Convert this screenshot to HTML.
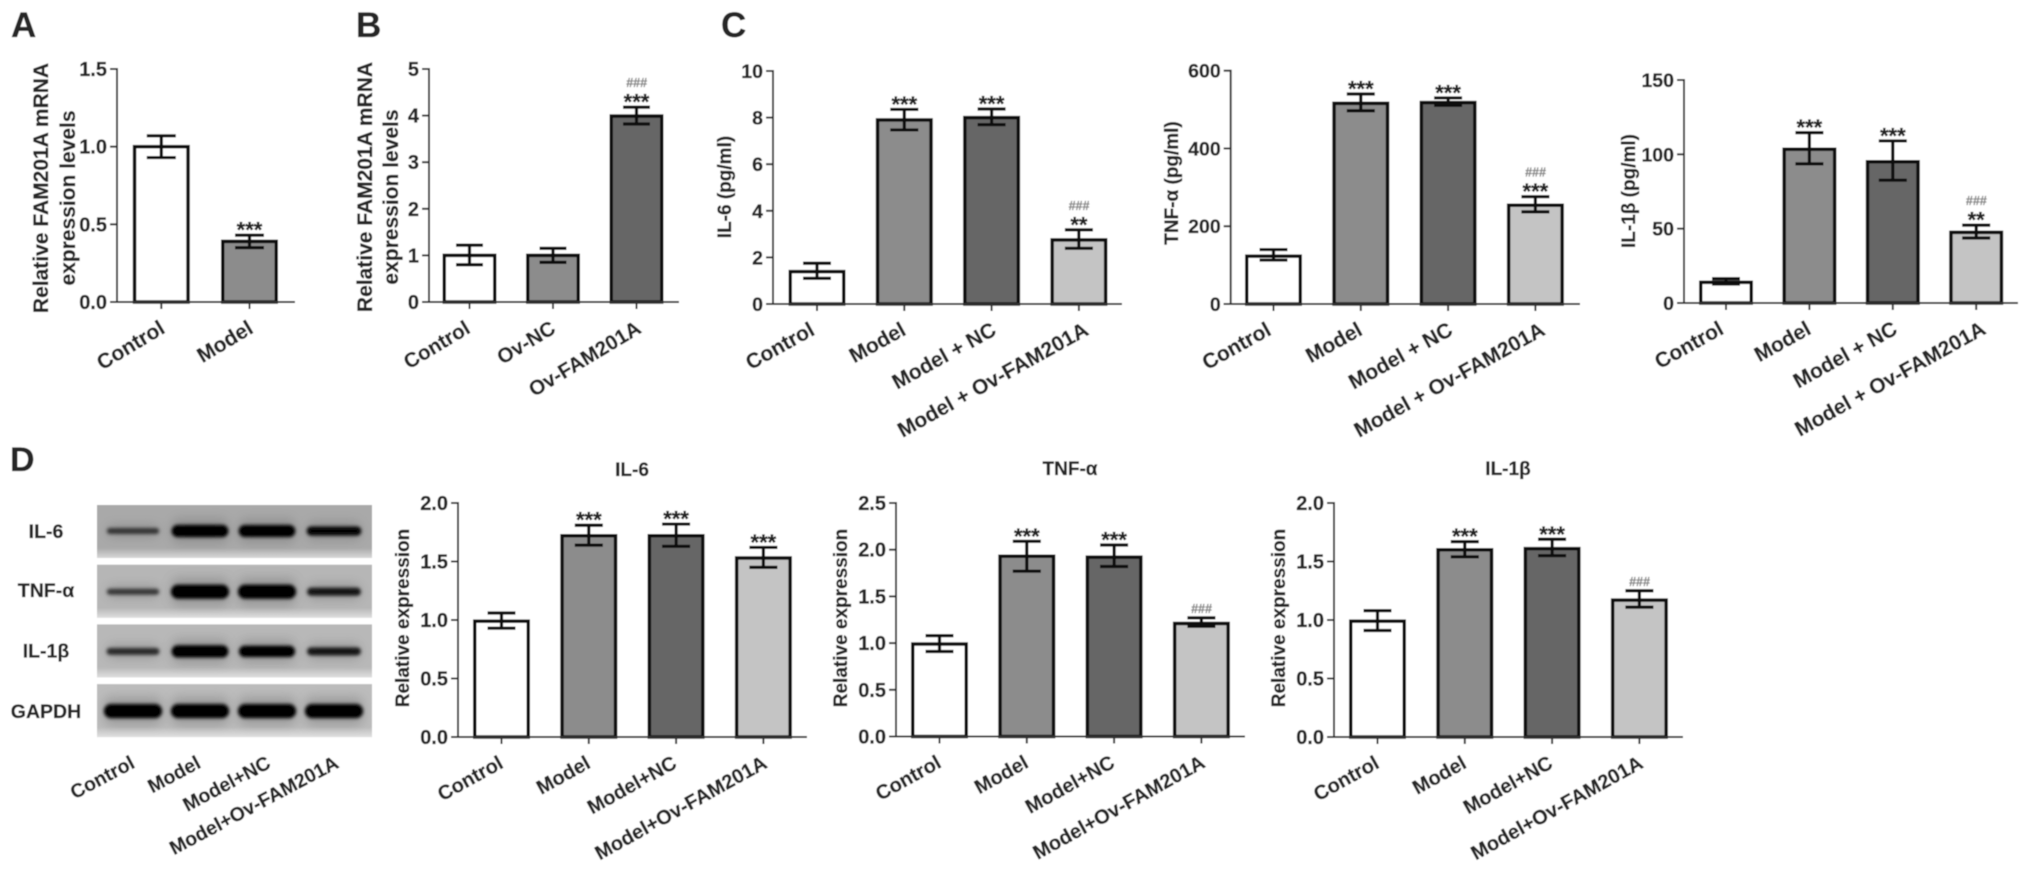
<!DOCTYPE html>
<html lang="en">
<head>
<meta charset="utf-8">
<title>FAM201A expression figure</title>
<style>
  html, body { margin: 0; padding: 0; background: #fff; width: 2031px; height: 870px; overflow: hidden; }
  svg { display: block; }
  text { font-family: "Liberation Sans", "DejaVu Sans", sans-serif; font-weight: bold; fill: #262626; stroke: #262626; stroke-width: 0.3; }
</style>
</head>
<body>
<svg id="figure" xmlns="http://www.w3.org/2000/svg" width="2031" height="870" viewBox="0 0 2031 870">
  <defs>
    <filter id="soft" x="0" y="0" width="100%" height="100%" filterUnits="objectBoundingBox"><feGaussianBlur stdDeviation="0.65"/></filter>
    <filter id="bandBlur" x="-30%" y="-100%" width="160%" height="300%"><feGaussianBlur stdDeviation="1.5"/></filter>
    <filter id="haloBlur" x="-30%" y="-200%" width="160%" height="500%"><feGaussianBlur stdDeviation="5"/></filter>
    <linearGradient id="rowFade" x1="0" y1="0" x2="0" y2="1">
      <stop offset="0" stop-color="#ffffff" stop-opacity="0"/>
      <stop offset="1" stop-color="#ffffff" stop-opacity="0.55"/>
    </linearGradient>
  </defs>
  <rect x="0" y="0" width="2031" height="870" fill="#ffffff"/>
  <g id="root" filter="url(#soft)">
    <rect x="0" y="0" width="2031" height="870" fill="#ffffff"/>
    <text x="11" y="37" font-size="35">A</text>
    <text x="356" y="37" font-size="35">B</text>
    <text x="721" y="37" font-size="35">C</text>
    <text x="10" y="471" font-size="34">D</text>
    <g id="blot"></g>
    <g id="charts"></g>
  </g>
</svg>
<script>
// ---------- Panel A ----------
const aCategories = ['Control', 'Model'];
const aMeans = [1.0, 0.39];
const aUpper = [1.07, 0.43];
const aLower = [0.93, 0.35];
const aStars = ['', '***'];
const aHashes = ['', ''];
const aTicks = ['0.0', '0.5', '1.0', '1.5'];

// ---------- Panel B ----------
const bCategories = ['Control', 'Ov-NC', 'Ov-FAM201A'];
const bMeans = [1.0, 1.0, 3.99];
const bUpper = [1.22, 1.15, 4.18];
const bLower = [0.8, 0.85, 3.82];
const bStars = ['', '', '***'];
const bHashes = ['', '', '###'];
const bTicks = ['0', '1', '2', '3', '4', '5'];

// ---------- Panel C ----------
const cCategories = ['Control', 'Model', 'Model + NC', 'Model + Ov-FAM201A'];
const cStarsIl6 = ['', '***', '***', '**'];
const cStarsTnf = ['', '***', '***', '***'];
const cStarsIl1 = ['', '***', '***', '**'];
const cHashes = ['', '', '', '###'];

const cIl6Means = [1.39, 7.9, 8.0, 2.75];
const cIl6Upper = [1.75, 8.35, 8.37, 3.18];
const cIl6Lower = [1.1, 7.47, 7.7, 2.39];
const cIl6Ticks = ['0', '2', '4', '6', '8', '10'];

const cTnfMeans = [123, 516, 518, 254];
const cTnfUpper = [140, 540, 530, 276];
const cTnfLower = [113, 497, 511, 237];
const cTnfTicks = ['0', '200', '400', '600'];

const cIl1Means = [13.9, 103.4, 95, 47.5];
const cIl1Upper = [16.3, 114.6, 109, 52.4];
const cIl1Lower = [12.8, 93.6, 82.6, 43.7];
const cIl1Ticks = ['0', '50', '100', '150'];

// ---------- Panel D ----------
const dCategories = ['Control', 'Model', 'Model+NC', 'Model+Ov-FAM201A'];

const dIl6Means = [0.99, 1.72, 1.72, 1.53];
const dIl6Upper = [1.06, 1.81, 1.82, 1.62];
const dIl6Lower = [0.93, 1.64, 1.63, 1.45];
const dIl6Stars = ['', '***', '***', '***'];
const dIl6Hashes = ['', '', '', ''];
const dIl6Ticks = ['0.0', '0.5', '1.0', '1.5', '2.0'];

const dTnfMeans = [0.99, 1.93, 1.92, 1.21];
const dTnfUpper = [1.08, 2.09, 2.05, 1.27];
const dTnfLower = [0.91, 1.77, 1.82, 1.18];
const dTnfStars = ['', '***', '***', ''];
const dTnfHashes = ['', '', '', '###'];
const dTnfTicks = ['0.0', '0.5', '1.0', '1.5', '2.0', '2.5'];

const dIl1Means = [0.99, 1.6, 1.61, 1.17];
const dIl1Upper = [1.08, 1.67, 1.69, 1.25];
const dIl1Lower = [0.91, 1.54, 1.55, 1.11];
const dIl1Stars = ['', '***', '***', ''];
const dIl1Hashes = ['', '', '', '###'];
const dIl1Ticks = ['0.0', '0.5', '1.0', '1.5', '2.0'];

// ---------- Western blot band intensities (relative) ----------
const blotTargets = ['IL-6', 'TNF-α', 'IL-1β', 'GAPDH'];
const blotIl6 = [0.48, 1.0, 0.98, 0.75];
const blotTnf = [0.48, 1.15, 1.15, 0.65];
const blotIl1 = [0.55, 1.0, 0.92, 0.65];
const blotGapdh = [1.15, 1.15, 1.15, 1.15];
const blotLevels = [blotIl6, blotTnf, blotIl1, blotGapdh];
const blotLanes = ['Control', 'Model', 'Model+NC', 'Model+Ov-FAM201A'];

const NS = 'http://www.w3.org/2000/svg';
const chartsRoot = document.getElementById('charts');
const blotRoot = document.getElementById('blot');

function make(tag, parent, attrs, txt) {
  const el = document.createElementNS(NS, tag);
  for (const k in attrs) el.setAttribute(k, attrs[k]);
  if (txt !== undefined) el.textContent = txt;
  parent.appendChild(el);
  return el;
}
function slug(s) {
  return s.toLowerCase().replace(/[^a-z0-9]+/g, '-').replace(/^-|-$/g, '');
}

const FILLS2 = ['#ffffff', '#8c8c8c'];
const FILLS3 = ['#ffffff', '#8c8c8c', '#666666'];
const FILLS4 = ['#ffffff', '#8c8c8c', '#666666', '#c4c4c4'];
const INK = '#0d0d0d';
const AXIS = '#333333';
const BAR_STROKE = 3.5;

function drawChart(p) {
  const g = make('g', chartsRoot, {});
  
  

  const yScale = v => p.y0 - (v / p.yMax) * (p.y0 - p.yTop);
  const xBand = i => p.first + i * p.step;

  // bars
  p.categories.forEach((c, i) => {
    const yv = yScale(p.means[i]);
    const bar = make('rect', g, {
      x: xBand(i) - p.barW / 2 + BAR_STROKE / 2, y: yv,
      width: p.barW - BAR_STROKE, height: p.y0 - yv,
      fill: p.fills[i], stroke: INK, 'stroke-width': BAR_STROKE
    });
    
    
  });

  // error bars
  p.categories.forEach((c, i) => {
    const eg = make('g', g, { stroke: INK, 'stroke-width': 3.2, fill: 'none' });
    
    
    const cx = xBand(i), hi = yScale(p.upper[i]), lo = yScale(p.lower[i]);
    make('line', eg, { x1: cx, x2: cx, y1: hi, y2: lo });
    make('line', eg, { x1: cx - p.capW / 2, x2: cx + p.capW / 2, y1: hi, y2: hi });
    make('line', eg, { x1: cx - p.capW / 2, x2: cx + p.capW / 2, y1: lo, y2: lo });
  });

  // significance marks
  p.categories.forEach((c, i) => {
    const hi = yScale(p.upper[i]);
    const starCenter = hi - 10;
    if (p.stars[i]) {
      const s = make('text', g, { x: xBand(i), y: starCenter + 12.5, 'font-size': 22, 'text-anchor': 'middle', style: 'fill:#222' }, p.stars[i]);
      
      
    }
    if (p.hashes[i]) {
      const hy = p.stars[i] ? starCenter - 10 : hi - 5;
      const h = make('text', g, { x: xBand(i), y: hy, 'font-size': 12.5, 'text-anchor': 'middle', style: 'fill:#8a8a8a;stroke:#8a8a8a;font-style:italic' }, p.hashes[i]);
      
      
    }
  });

  // axes
  const yAxis = make('line', g, { x1: p.axisX, x2: p.axisX, y1: p.yTop - 1, y2: p.y0 + 1, stroke: AXIS, 'stroke-width': 2 });
  
  
  const xAxis = make('line', g, { x1: p.axisX - 7, x2: p.xEnd, y1: p.y0, y2: p.y0, stroke: AXIS, 'stroke-width': 2 });
  
  

  // y ticks
  p.ticks.forEach(t => {
    const y = yScale(parseFloat(t));
    const tk = make('line', g, { x1: p.axisX - 7, x2: p.axisX, y1: y, y2: y, stroke: AXIS, 'stroke-width': 2 });
    
    
    const lb = make('text', g, { x: p.axisX - 10, y: y + 7, 'font-size': p.tickFont, 'text-anchor': 'end' }, t);
    
    
  });

  // x ticks + labels
  p.categories.forEach((c, i) => {
    const x = xBand(i);
    const tk = make('line', g, { x1: x, x2: x, y1: p.y0, y2: p.y0 + 7, stroke: AXIS, 'stroke-width': 2 });
    
    
    const lx = x + p.catShift[i], ly = p.y0 + 30;
    const lb = make('text', g, {
      x: lx, y: ly, 'font-size': p.catFont, 'text-anchor': 'end',
      transform: 'rotate(' + p.catAngle + ' ' + lx + ' ' + ly + ')'
    }, c);
    
    
  });

  // y axis titles
  p.yTitles.forEach(t => {
    const lb = make('text', g, {
      x: t.x, y: t.y, 'font-size': p.titleFont, 'text-anchor': 'middle',
      transform: 'rotate(-90 ' + t.x + ' ' + t.y + ')'
    }, t.text);
    
    
  });

  if (p.title) {
    const tt = make('text', g, { x: p.title.x, y: p.title.y, 'font-size': 19, 'text-anchor': 'middle' }, p.title.text);
    
    
  }
}

const C_SHIFT = [-1, 3, 6, 11];
const D_SHIFT = [3, 3, 2, 5];

drawChart({ id: 'a', categories: aCategories, means: aMeans, upper: aUpper, lower: aLower, stars: aStars, hashes: aHashes, ticks: aTicks, fills: FILLS2,
  axisX: 117, yTop: 69, y0: 302, yMax: 1.5, xEnd: 295, first: 161.3, step: 88.2, barW: 57, capW: 29, tickFont: 20, catFont: 21, titleFont: 21, catShift: [5, 5], catAngle: -31,
  yTitles: [{ text: 'Relative FAM201A mRNA', x: 48, y: 188 }, { text: 'expression levels', x: 75, y: 198 }] });

drawChart({ id: 'b', categories: bCategories, means: bMeans, upper: bUpper, lower: bLower, stars: bStars, hashes: bHashes, ticks: bTicks, fills: FILLS3,
  axisX: 429, yTop: 69, y0: 302, yMax: 5, xEnd: 679, first: 469.5, step: 83.5, barW: 54, capW: 27, tickFont: 20, catFont: 20.5, titleFont: 21, catShift: [2, 4, 6], catAngle: -31,
  yTitles: [{ text: 'Relative FAM201A mRNA', x: 372, y: 187 }, { text: 'expression levels', x: 398, y: 197 }] });

drawChart({ id: 'c-il6', categories: cCategories, means: cIl6Means, upper: cIl6Upper, lower: cIl6Lower, stars: cStarsIl6, hashes: cHashes, ticks: cIl6Ticks, fills: FILLS4,
  axisX: 773, yTop: 71, y0: 304, yMax: 10, xEnd: 1122, first: 817, step: 87.3, barW: 57, capW: 28, tickFont: 19.5, catFont: 21, titleFont: 19, catShift: C_SHIFT, catAngle: -29,
  yTitles: [{ text: 'IL-6 (pg/ml)', x: 731, y: 187 }] });

drawChart({ id: 'c-tnf', categories: cCategories, means: cTnfMeans, upper: cTnfUpper, lower: cTnfLower, stars: cStarsTnf, hashes: cHashes, ticks: cTnfTicks, fills: FILLS4,
  axisX: 1230.7, yTop: 70.7, y0: 304, yMax: 600, xEnd: 1580, first: 1273.5, step: 87.3, barW: 57, capW: 28, tickFont: 19.5, catFont: 21, titleFont: 19, catShift: C_SHIFT, catAngle: -29,
  yTitles: [{ text: 'TNF-α (pg/ml)', x: 1178, y: 183 }] });

drawChart({ id: 'c-il1b', categories: cCategories, means: cIl1Means, upper: cIl1Upper, lower: cIl1Lower, stars: cStarsIl1, hashes: cHashes, ticks: cIl1Ticks, fills: FILLS4,
  axisX: 1684, yTop: 80, y0: 303, yMax: 150, xEnd: 2018, first: 1726, step: 83.4, barW: 54, capW: 28, tickFont: 19.5, catFont: 21, titleFont: 19, catShift: C_SHIFT, catAngle: -29,
  yTitles: [{ text: 'IL-1β (pg/ml)', x: 1635, y: 191 }] });

drawChart({ id: 'd-il6', categories: dCategories, means: dIl6Means, upper: dIl6Upper, lower: dIl6Lower, stars: dIl6Stars, hashes: dIl6Hashes, ticks: dIl6Ticks, fills: FILLS4,
  axisX: 458, yTop: 503, y0: 737, yMax: 2, xEnd: 807, first: 501.5, step: 87.3, barW: 57, capW: 28, tickFont: 20, catFont: 20, titleFont: 19, catShift: D_SHIFT, catAngle: -29,
  title: { text: 'IL-6', x: 632, y: 476 },
  yTitles: [{ text: 'Relative expression', x: 409, y: 618 }] });

drawChart({ id: 'd-tnf', categories: dCategories, means: dTnfMeans, upper: dTnfUpper, lower: dTnfLower, stars: dTnfStars, hashes: dTnfHashes, ticks: dTnfTicks, fills: FILLS4,
  axisX: 896, yTop: 503, y0: 736.5, yMax: 2.5, xEnd: 1245, first: 939.5, step: 87.3, barW: 57, capW: 28, tickFont: 20, catFont: 20, titleFont: 19, catShift: D_SHIFT, catAngle: -29,
  title: { text: 'TNF-α', x: 1070, y: 475 },
  yTitles: [{ text: 'Relative expression', x: 847, y: 618 }] });

drawChart({ id: 'd-il1b', categories: dCategories, means: dIl1Means, upper: dIl1Upper, lower: dIl1Lower, stars: dIl1Stars, hashes: dIl1Hashes, ticks: dIl1Ticks, fills: FILLS4,
  axisX: 1334, yTop: 503, y0: 737, yMax: 2, xEnd: 1683, first: 1377.5, step: 87.3, barW: 57, capW: 28, tickFont: 20, catFont: 20, titleFont: 19, catShift: D_SHIFT, catAngle: -29,
  title: { text: 'IL-1β', x: 1508, y: 475 },
  yTitles: [{ text: 'Relative expression', x: 1285, y: 618 }] });

// ---------- Western blot ----------
(function drawBlot() {
  const left = 97, width = 275, rowH = 53, rowPitch = 59.7;
  const rowTop = r => 505 + r * rowPitch;
  const laneX = l => 133 + l * 67;
  const rowShade = ['#a9a9a9', '#b6b6b6', '#b8b8b8', '#bcbcbc'];
  const labelBaseline = [33, 32.5, 33, 34];
  const bandOffset = [26, 27, 27, 27];
  const labelX = 46;

  blotTargets.forEach((target, r) => {
    const rowG = make('g', blotRoot, {});
    
    
    const top = rowTop(r);
    const bg = make('rect', rowG, { x: left, y: top, width: width, height: rowH, fill: rowShade[r] });
    
    

    const clipId = 'blotClip' + r;
    const clip = make('clipPath', rowG, { id: clipId });
    make('rect', clip, { x: left, y: top, width: width, height: rowH });
    const bandsG = make('g', rowG, { 'clip-path': 'url(#' + clipId + ')' });

    blotLevels[r].forEach((lvl, l) => {
      const cy = top + bandOffset[r];
      const h = 12.5 * lvl;
      const w = 48 + 9 * lvl;
      const halo = make('rect', bandsG, { x: laneX(l) - w / 2, y: cy - h, width: w, height: h * 2, rx: 8, fill: '#707070', opacity: 0.4, filter: 'url(#haloBlur)' });
      
      
      const band = make('rect', bandsG, {
        x: laneX(l) - w / 2, y: cy - h / 2, width: w, height: h, rx: h / 2,
        fill: '#030303', opacity: Math.min(1, 0.1 + lvl * 1.15), filter: 'url(#bandBlur)'
      });
      
      
    });

    const fade = make('rect', rowG, { x: left, y: top + rowH - 10, width: width, height: 10, fill: 'url(#rowFade)' });
    
    

    const lb = make('text', rowG, { x: labelX, y: top + labelBaseline[r], 'font-size': 19.5, 'text-anchor': 'middle' }, target);
    
    
  });

  const laneLabelEnd = [136, 202, 272, 340];
  blotLanes.forEach((name, l) => {
    const lx = laneLabelEnd[l], ly = 767;
    const lb = make('text', blotRoot, {
      x: lx, y: ly, 'font-size': 19.5, 'text-anchor': 'end',
      transform: 'rotate(-28 ' + lx + ' ' + ly + ')'
    }, name);
    
    
  });
})();
</script>
</body>
</html>
